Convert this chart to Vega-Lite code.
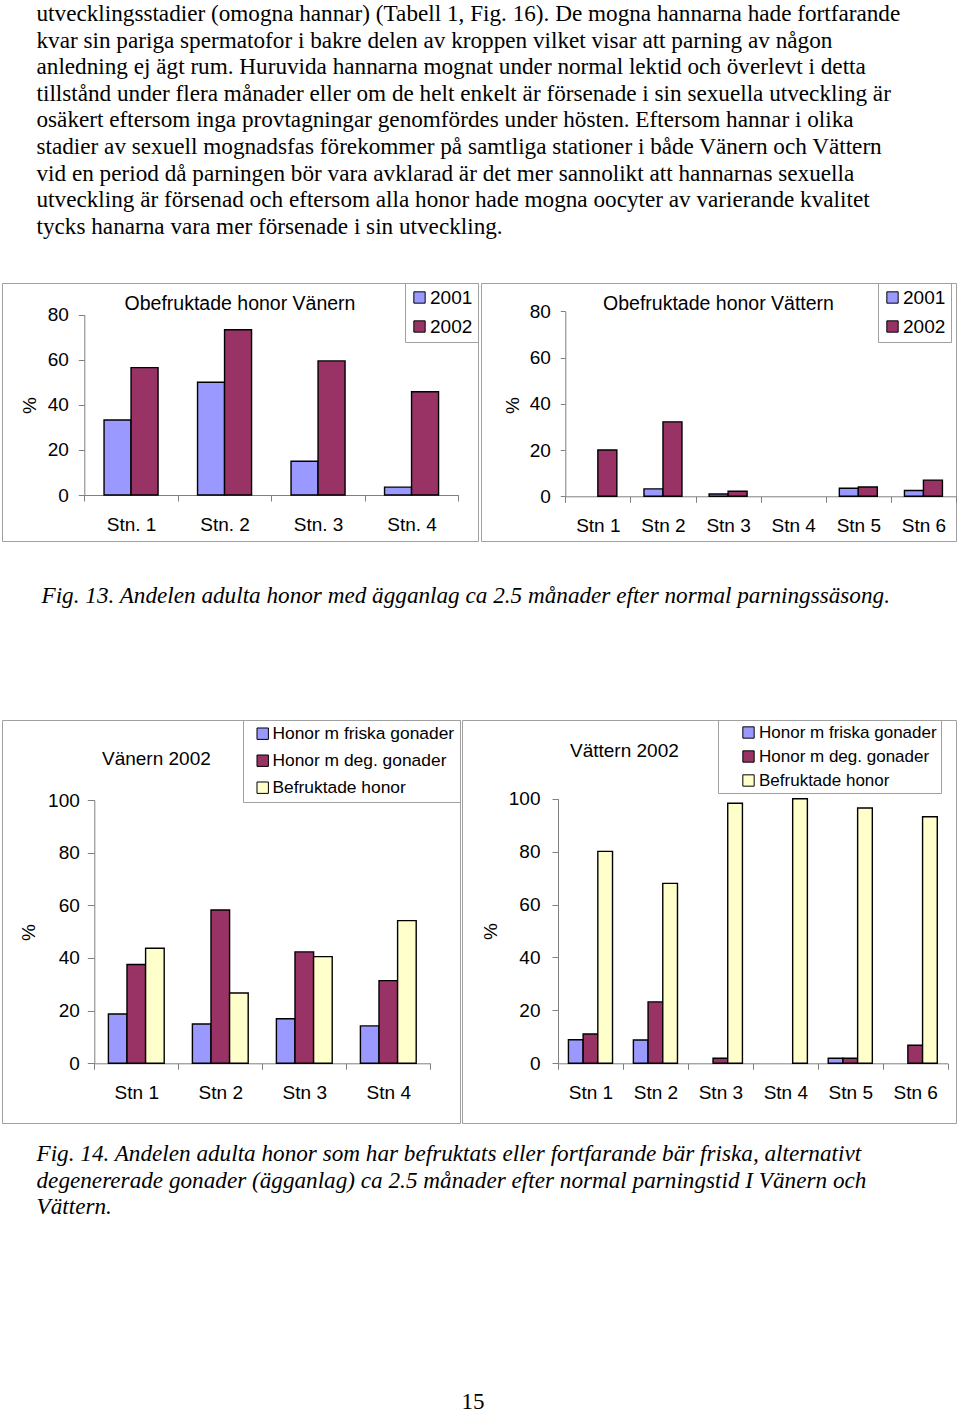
{
  "$schema": "https://vega.github.io/schema/vega-lite/v6.json",
  "background": "white",
  "padding": {"left": 1, "top": 2, "right": 0, "bottom": 0},
  "resolve": {"scale": {"fill": "independent", "xOffset": "independent"}, "legend": {"fill": "independent"}},
  "title": {
    "text": [
      "utvecklingsstadier (omogna hannar) (Tabell 1, Fig. 16). De mogna hannarna hade fortfarande",
      "kvar sin pariga spermatofor i bakre delen av kroppen vilket visar att parning av någon",
      "anledning ej ägt rum. Huruvida hannarna mognat under normal lektid och överlevt i detta",
      "tillstånd under flera månader eller om de helt enkelt är försenade i sin sexuella utveckling är",
      "osäkert eftersom inga provtagningar genomfördes under hösten. Eftersom hannar i olika",
      "stadier av sexuell mognadsfas förekommer på samtliga stationer i både Vänern och Vättern",
      "vid en period då parningen bör vara avklarad är det mer sannolikt att hannarnas sexuella",
      "utveckling är försenad och eftersom alla honor hade mogna oocyter av varierande kvalitet",
      "tycks hanarna vara mer försenade i sin utveckling."
    ],
    "anchor": "start", "dx": 35, "offset": 43,
    "font": "Liberation Serif", "fontSize": 23.2, "fontWeight": "normal", "lineHeight": 26.6, "color": "black"
  },
  "config": {
    "view": {"stroke": "#a0a0a0", "strokeWidth": 1},
    "concat": {"spacing": 0},
    "axis": {"grid": false, "domain": true, "domainColor": "#808080", "domainWidth": 1, "tickColor": "#808080", "tickWidth": 1, "labelColor": "black", "labelFont": "Liberation Sans", "labelFontSize": 19, "titleColor": "black", "titleFont": "Liberation Sans", "titleFontSize": 19, "titleFontWeight": "normal"},
    "legend": {"orient": "top-right", "offset": 0, "strokeColor": "#a0a0a0", "symbolType": "square", "symbolStrokeColor": "black", "symbolStrokeWidth": 1, "labelColor": "black", "labelFont": "Liberation Sans"},
    "title": {"font": "Liberation Sans", "fontWeight": "normal", "color": "black", "fontSize": 19}
  },
  "spacing": 41,
  "vconcat": [
    {
      "resolve": {"scale": {"fill": "independent", "xOffset": "independent"}, "legend": {"fill": "independent"}},
      "hconcat": [
        {
          "width": 476, "height": 258,
          "title": {"text": "Obefruktade honor Vänern", "offset": -32, "anchor": "middle", "frame": "group", "fontSize": 19.5},
          "data": {"values": [
            {"station": "Stn. 1", "series": "2001", "value": 33.3},
            {"station": "Stn. 1", "series": "2002", "value": 56.5},
            {"station": "Stn. 2", "series": "2001", "value": 50},
            {"station": "Stn. 2", "series": "2002", "value": 73.3},
            {"station": "Stn. 3", "series": "2001", "value": 15},
            {"station": "Stn. 3", "series": "2002", "value": 59.5},
            {"station": "Stn. 4", "series": "2001", "value": 3.5},
            {"station": "Stn. 4", "series": "2002", "value": 45.8}
          ]},
          "mark": {"type": "bar", "stroke": "black", "strokeWidth": 1.4},
          "encoding": {
            "x": {"field": "station", "type": "nominal", "sort": null,
              "scale": {"domain": ["Stn. 1", "Stn. 2", "Stn. 3", "Stn. 4"], "range": [82.3, 456.3], "paddingInner": 0, "paddingOuter": 0},
              "axis": {"title": null, "offset": -46, "labelAngle": 0, "tickBand": "extent", "tickSize": 6, "labelPadding": 14}},
            "xOffset": {"field": "series", "type": "nominal", "scale": {"domain": ["2001", "2002"], "paddingInner": 0, "paddingOuter": 0.731}},
            "y": {"field": "value", "type": "quantitative", "scale": {"domain": [0, 80], "range": [212, 31.7], "nice": false, "zero": false},
              "axis": {"offset": -82.3, "values": [0, 20, 40, 60, 80], "tickSize": 6, "labelPadding": 10, "title": "%", "titlePadding": 8, "titleY": 122}},
            "fill": {"field": "series", "type": "nominal", "scale": {"domain": ["2001", "2002"], "range": ["#9999ff", "#993366"]},
              "legend": {"title": null, "padding": 5, "rowPadding": 9, "symbolSize": 128, "labelFontSize": 19, "labelOffset": 1, "labelExpr": "datum.label + '\u00a0'"}},
            "strokeOpacity": {"condition": {"test": "datum.value == 0", "value": 0}, "value": 1}
          }
        },
        {
          "width": 475, "height": 258,
          "title": {"text": "Obefruktade honor Vättern", "offset": -32, "anchor": "middle", "frame": "group", "fontSize": 19.5},
          "data": {"values": [
            {"station": "Stn 1", "series": "2001", "value": 0},
            {"station": "Stn 1", "series": "2002", "value": 20},
            {"station": "Stn 2", "series": "2001", "value": 3.2},
            {"station": "Stn 2", "series": "2002", "value": 32.2},
            {"station": "Stn 3", "series": "2001", "value": 1},
            {"station": "Stn 3", "series": "2002", "value": 2.2},
            {"station": "Stn 4", "series": "2001", "value": 0},
            {"station": "Stn 4", "series": "2002", "value": 0},
            {"station": "Stn 5", "series": "2001", "value": 3.5},
            {"station": "Stn 5", "series": "2002", "value": 4},
            {"station": "Stn 6", "series": "2001", "value": 2.5},
            {"station": "Stn 6", "series": "2002", "value": 7}
          ]},
          "mark": {"type": "bar", "stroke": "black", "strokeWidth": 1.4},
          "encoding": {
            "x": {"field": "station", "type": "nominal", "sort": null,
              "scale": {"domain": ["Stn 1", "Stn 2", "Stn 3", "Stn 4", "Stn 5", "Stn 6"], "range": [84.3, 475], "paddingInner": 0, "paddingOuter": 0},
              "axis": {"title": null, "offset": -44.7, "labelAngle": 0, "tickBand": "extent", "tickSize": 6, "labelPadding": 14}},
            "xOffset": {"field": "series", "type": "nominal", "scale": {"domain": ["2001", "2002"], "paddingInner": 0, "paddingOuter": 0.714}},
            "y": {"field": "value", "type": "quantitative", "scale": {"domain": [0, 80], "range": [213.3, 28.3], "nice": false, "zero": false},
              "axis": {"offset": -84.3, "values": [0, 20, 40, 60, 80], "tickSize": 5, "labelPadding": 10, "title": "%", "titlePadding": 7, "titleY": 122}},
            "fill": {"field": "series", "type": "nominal", "scale": {"domain": ["2001", "2002"], "range": ["#9999ff", "#993366"]},
              "legend": {"title": null, "orient": "none", "legendX": 397, "legendY": 0, "padding": 5, "rowPadding": 9, "symbolSize": 128, "labelFontSize": 19, "labelOffset": 1, "labelExpr": "datum.label + '\u00a0'"}},
            "strokeOpacity": {"condition": {"test": "datum.value == 0", "value": 0}, "value": 1}
          }
        }
      ],
      "spacing": 1
    },
    {
      "resolve": {"scale": {"fill": "independent", "xOffset": "independent"}, "legend": {"fill": "independent"}},
      "title": {"text": "15", "orient": "bottom", "anchor": "middle", "offset": 173, "dx": -6, "font": "Liberation Serif", "fontSize": 23, "fontWeight": "normal", "color": "black"},
      "vconcat": [
        {
          "resolve": {"scale": {"fill": "independent", "xOffset": "independent"}, "legend": {"fill": "independent"}},
          "title": {"text": "Fig. 13. Andelen adulta honor med ägganlag ca 2.5 månader efter normal parningssäsong.", "orient": "top", "anchor": "start", "dx": 40, "offset": 111, "font": "Liberation Serif", "fontSize": 23.2, "fontStyle": "italic", "fontWeight": "normal", "color": "black"},
          "vconcat": [
            {
              "resolve": {"scale": {"fill": "independent", "xOffset": "independent"}, "legend": {"fill": "independent"}},
              "title": {"text": ["Fig. 14. Andelen adulta honor som har befruktats eller fortfarande bär friska,  alternativt", "degenererade gonader (ägganlag) ca 2.5 månader efter normal parningstid I Vänern och", "Vättern."], "orient": "bottom", "anchor": "start", "dx": 35, "offset": 19.5, "font": "Liberation Serif", "fontSize": 23.2, "fontStyle": "italic", "fontWeight": "normal", "lineHeight": 26.5, "color": "black"},
              "hconcat": [
                {
                  "width": 458, "height": 403,
                  "title": {"text": "Vänern 2002", "offset": -49, "anchor": "start", "frame": "group", "dx": 100},
                  "data": {"values": [
                    {"station": "Stn 1", "series": "Honor m friska gonader", "value": 18.7},
                    {"station": "Stn 1", "series": "Honor m deg. gonader", "value": 37.5},
                    {"station": "Stn 1", "series": "Befruktade honor", "value": 43.7},
                    {"station": "Stn 2", "series": "Honor m friska gonader", "value": 14.9},
                    {"station": "Stn 2", "series": "Honor m deg. gonader", "value": 58.2},
                    {"station": "Stn 2", "series": "Befruktade honor", "value": 26.7},
                    {"station": "Stn 3", "series": "Honor m friska gonader", "value": 16.9},
                    {"station": "Stn 3", "series": "Honor m deg. gonader", "value": 42.3},
                    {"station": "Stn 3", "series": "Befruktade honor", "value": 40.5},
                    {"station": "Stn 4", "series": "Honor m friska gonader", "value": 14.2},
                    {"station": "Stn 4", "series": "Honor m deg. gonader", "value": 31.4},
                    {"station": "Stn 4", "series": "Befruktade honor", "value": 54.2}
                  ]},
                  "mark": {"type": "bar", "stroke": "black", "strokeWidth": 1.4},
                  "encoding": {
                    "x": {"field": "station", "type": "nominal", "sort": null,
                      "scale": {"domain": ["Stn 1", "Stn 2", "Stn 3", "Stn 4"], "range": [92.3, 428.3], "paddingInner": 0, "paddingOuter": 0},
                      "axis": {"title": null, "offset": -59.7, "labelAngle": 0, "tickBand": "extent", "tickSize": 6, "labelPadding": 14}},
                    "xOffset": {"field": "series", "type": "nominal", "scale": {"domain": ["Honor m friska gonader", "Honor m deg. gonader", "Befruktade honor"], "paddingInner": 0, "paddingOuter": 0.758}},
                    "y": {"field": "value", "type": "quantitative", "scale": {"domain": [0, 100], "range": [343.3, 80], "nice": false, "zero": false},
                      "axis": {"offset": -92.3, "values": [0, 20, 40, 60, 80, 100], "tickSize": 7, "labelPadding": 8, "title": "%", "titlePadding": 9, "titleY": 212}},
                    "fill": {"field": "series", "type": "nominal", "scale": {"domain": ["Honor m friska gonader", "Honor m deg. gonader", "Befruktade honor"], "range": ["#9999ff", "#993366", "#ffffcc"]},
                      "legend": {"title": null, "padding": 5, "rowPadding": 8, "symbolSize": 130, "symbolOffset": 6, "labelFontSize": 17.4, "labelOffset": 1, "labelLimit": 400, "labelExpr": "datum.label + '\u00a0\u00a0\u00a0'"}},
                    "strokeOpacity": {"condition": {"test": "datum.value == 0", "value": 0}, "value": 1}
                  }
                },
                {
                  "width": 494, "height": 403,
                  "title": {"text": "Vättern 2002", "offset": -41, "anchor": "start", "frame": "group", "dx": 108},
                  "data": {"values": [
                    {"station": "Stn 1", "series": "Honor m friska gonader", "value": 8.9},
                    {"station": "Stn 1", "series": "Honor m deg. gonader", "value": 11.1},
                    {"station": "Stn 1", "series": "Befruktade honor", "value": 80.1},
                    {"station": "Stn 2", "series": "Honor m friska gonader", "value": 8.8},
                    {"station": "Stn 2", "series": "Honor m deg. gonader", "value": 23.2},
                    {"station": "Stn 2", "series": "Befruktade honor", "value": 68},
                    {"station": "Stn 3", "series": "Honor m friska gonader", "value": 0},
                    {"station": "Stn 3", "series": "Honor m deg. gonader", "value": 1.9},
                    {"station": "Stn 3", "series": "Befruktade honor", "value": 98.3},
                    {"station": "Stn 4", "series": "Honor m friska gonader", "value": 0},
                    {"station": "Stn 4", "series": "Honor m deg. gonader", "value": 0},
                    {"station": "Stn 4", "series": "Befruktade honor", "value": 100},
                    {"station": "Stn 5", "series": "Honor m friska gonader", "value": 1.9},
                    {"station": "Stn 5", "series": "Honor m deg. gonader", "value": 1.9},
                    {"station": "Stn 5", "series": "Befruktade honor", "value": 96.5},
                    {"station": "Stn 6", "series": "Honor m friska gonader", "value": 0},
                    {"station": "Stn 6", "series": "Honor m deg. gonader", "value": 6.8},
                    {"station": "Stn 6", "series": "Befruktade honor", "value": 93.2}
                  ]},
                  "mark": {"type": "bar", "stroke": "black", "strokeWidth": 1.4},
                  "encoding": {
                    "x": {"field": "station", "type": "nominal", "sort": null,
                      "scale": {"domain": ["Stn 1", "Stn 2", "Stn 3", "Stn 4", "Stn 5", "Stn 6"], "range": [96, 485.7], "paddingInner": 0, "paddingOuter": 0},
                      "axis": {"title": null, "offset": -59.7, "labelAngle": 0, "tickBand": "extent", "tickSize": 6, "labelPadding": 14}},
                    "xOffset": {"field": "series", "type": "nominal", "scale": {"domain": ["Honor m friska gonader", "Honor m deg. gonader", "Befruktade honor"], "paddingInner": 0, "paddingOuter": 0.709}},
                    "y": {"field": "value", "type": "quantitative", "scale": {"domain": [0, 100], "range": [343.3, 78.7], "nice": false, "zero": false},
                      "axis": {"offset": -96, "values": [0, 20, 40, 60, 80, 100], "tickSize": 6, "labelPadding": 12, "title": "%", "titlePadding": 8, "titleY": 211}},
                    "fill": {"field": "series", "type": "nominal", "scale": {"domain": ["Honor m friska gonader", "Honor m deg. gonader", "Befruktade honor"], "range": ["#9999ff", "#993366", "#ffffcc"]},
                      "legend": {"title": null, "orient": "none", "legendX": 256, "legendY": 0, "padding": 4, "rowPadding": 6, "symbolSize": 128, "symbolOffset": 18, "labelFontSize": 17, "labelOffset": 2, "labelLimit": 400, "labelExpr": "datum.label + '\u00a0\u00a0\u00a0\u00a0'"}},
                    "strokeOpacity": {"condition": {"test": "datum.value == 0", "value": 0}, "value": 1}
                  }
                }
              ],
              "spacing": 0
            }
          ]
        }
      ]
    }
  ]
}
